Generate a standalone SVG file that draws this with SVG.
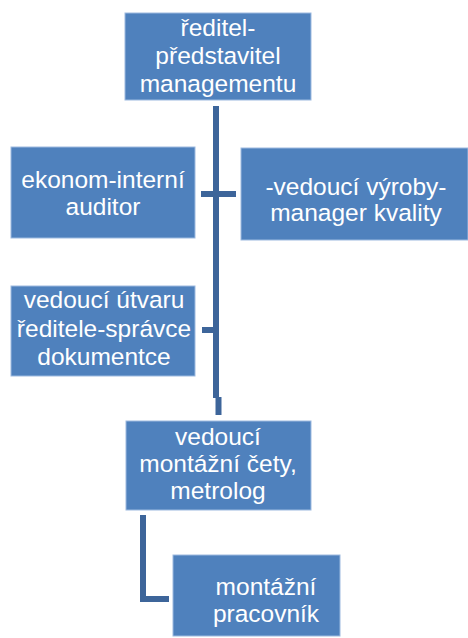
<svg xmlns="http://www.w3.org/2000/svg" width="468" height="638" viewBox="0 0 468 638">
  <style>
    .box { fill: #4F81BD; stroke: #9DBAE0; stroke-width: 1; }
    .lbl { fill: #FFFFFF; font-family: "Liberation Sans", Arial, sans-serif; font-size: 24.5px; text-anchor: middle; }
    .conn { fill: none; stroke: #3D659A; stroke-width: 6; stroke-linejoin: miter; }
  </style>
  <rect width="468" height="638" fill="#FFFFFF"/>

  <!-- connectors -->
  <g id="connectors">
    <path class="conn" d="M216 106 V398"/>
    <path class="conn" d="M218.5 397 V415"/>
    <path class="conn" d="M201 194 H236"/>
    <path class="conn" d="M202 330 H216"/>
    <path class="conn" d="M143 515 V599 H169"/>
  </g>

  <g id="node-reditel">
    <rect class="box" x="125" y="13" width="186" height="87"/>
    <text class="lbl" x="218" y="36">ředitel-</text>
    <text class="lbl" x="218" y="64">představitel</text>
    <text class="lbl" x="218" y="92">managementu</text>
  </g>

  <g id="node-ekonom">
    <rect class="box" x="11" y="147" width="184" height="91"/>
    <text class="lbl" x="103" y="188">ekonom-interní</text>
    <text class="lbl" x="103" y="215">auditor</text>
  </g>

  <g id="node-vyroba">
    <rect class="box" x="241" y="148" width="227" height="92"/>
    <text class="lbl" x="356" y="195">-vedoucí výroby-</text>
    <text class="lbl" x="356" y="221">manager kvality</text>
  </g>

  <g id="node-utvar">
    <rect class="box" x="11" y="286" width="184" height="90"/>
    <text class="lbl" x="104" y="308">vedoucí útvaru</text>
    <text class="lbl" x="104" y="337">ředitele-správce</text>
    <text class="lbl" x="104" y="365">dokumentce</text>
  </g>

  <g id="node-montazni-ceta">
    <rect class="box" x="126" y="421" width="185" height="89"/>
    <text class="lbl" x="218" y="445">vedoucí</text>
    <text class="lbl" x="218" y="472">montážní čety,</text>
    <text class="lbl" x="218" y="499">metrolog</text>
  </g>

  <g id="node-pracovnik">
    <rect class="box" x="173" y="555" width="167" height="81"/>
    <text class="lbl" x="266" y="595">montážní</text>
    <text class="lbl" x="266" y="622">pracovník</text>
  </g>
</svg>
